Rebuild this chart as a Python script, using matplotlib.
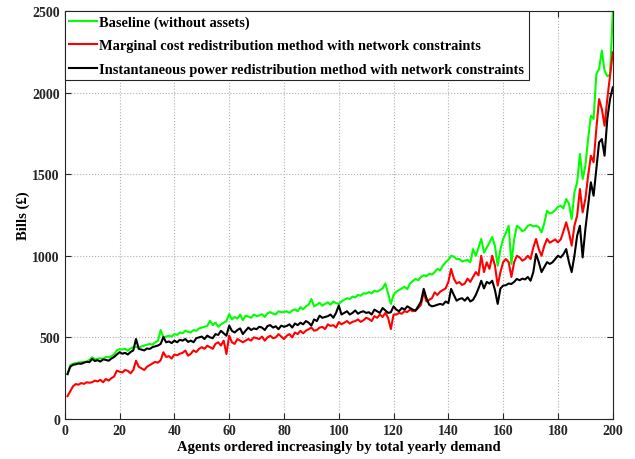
import numpy as np
import matplotlib
matplotlib.use("Agg")
import matplotlib.pyplot as plt

# Bills per agent (agents sorted by total yearly demand)
baseline = [
    275, 330, 338, 342, 345, 348, 350, 352, 362, 378, 365, 370, 372, 368, 380, 378, 385, 395, 420, 428,
    425, 430, 418, 432, 440, 441, 438, 445, 450, 455, 460, 455, 470, 478, 545, 500, 505, 510, 505, 520,
    515, 530, 525, 541, 533, 530, 545, 540, 555, 560, 565, 570, 602, 575, 590, 565, 580, 590, 600, 643,
    610, 625, 615, 640, 605, 633, 628, 620, 640, 630, 635, 642, 625, 648, 655, 645, 640, 660, 654, 655,
    660, 650, 665, 672, 660, 685, 672, 690, 700, 735, 690, 700, 712, 694, 705, 715, 700, 720, 710, 705,
    720, 730, 740, 735, 750, 745, 760, 755, 770, 768, 778, 770, 785, 780, 790, 800, 830, 770, 705, 760,
    780, 790, 800, 810, 795, 830, 845, 858, 850, 870, 880, 875, 890, 885, 900, 920, 910, 940, 960, 975,
    1000, 995, 980, 980, 965, 970, 975, 960, 1041, 1000, 1050, 1103, 1020, 1050, 1080, 1115, 1060, 939, 1040, 1103,
    1140, 1184, 950, 1100, 1184, 1170, 1150, 1160, 1184, 1190, 1180, 1184, 1175, 1143, 1200, 1276, 1260, 1265, 1280, 1300,
    1307, 1290, 1348, 1320, 1225, 1389, 1450, 1624, 1470, 1552, 1715, 1858, 1838, 2114, 2144, 2257, 2134, 2100, 2110, 2492,
]
marginal = [
    140, 170, 200, 214, 210, 220, 215, 225, 222, 225, 235, 230, 240, 225, 245, 235, 250, 260, 296, 290,
    285, 300, 295, 280, 300, 357, 320, 310, 300, 320, 330, 340, 350, 345, 360, 409, 380, 385, 370, 395,
    390, 400, 405, 419, 388, 400, 420, 410, 430, 440, 430, 449, 440, 430, 460, 470, 450, 480, 398, 511,
    470, 460, 490, 480, 470, 480, 490, 480, 500, 495, 490, 505, 480, 500, 510, 495, 500, 520, 505, 490,
    510, 520, 500, 530, 520, 540, 525, 541, 550, 560, 541, 545, 560, 564, 551, 580, 570, 575, 560, 594,
    580, 590, 600, 585, 595, 600, 610, 595, 605, 620, 613, 600, 630, 620, 640, 625, 650, 620, 551, 640,
    640, 650, 645, 660, 655, 670, 660, 664, 680, 700, 776, 720, 730, 740, 776, 760, 780, 790, 800, 840,
    919, 860, 830, 839, 821, 830, 860, 840, 870, 900, 880, 1000, 900, 960, 920, 1000, 940, 817, 900, 961,
    980, 961, 870, 960, 1000, 990, 970, 980, 1000, 980, 1050, 1103, 1040, 1000, 1060, 1103, 1080, 1090, 1100, 1082,
    1100, 1150, 1205, 1143, 1062, 1184, 1246, 1409, 1266, 1348, 1491, 1613, 1573, 1777, 1960, 1899, 1797, 1960, 2104, 2247,
]
instantaneous = [
    275, 320, 332, 335, 340, 338, 345, 350, 348, 368, 355, 360, 352, 365, 362, 357, 370, 380, 395, 409,
    400, 405, 395, 410, 420, 490, 430, 425, 420, 432, 429, 440, 445, 450, 460, 502, 470, 475, 465, 480,
    470, 485, 480, 490, 472, 480, 470, 495, 500, 505, 490, 511, 500, 495, 520, 515, 540, 525, 510, 572,
    540, 530, 545, 555, 520, 541, 560, 545, 555, 550, 565, 560, 545, 570, 575, 560, 568, 550, 572, 565,
    570, 580, 560, 585, 575, 590, 580, 600, 590, 572, 610, 600, 633, 620, 625, 630, 640, 620, 650, 695,
    640, 650, 660, 640, 650, 665, 645, 655, 660, 650, 654, 640, 670, 660, 650, 680, 665, 650, 654, 690,
    670, 660, 680, 670, 690, 680, 670, 664, 690, 720, 797, 740, 700, 690, 694, 700, 705, 700, 720, 710,
    797, 760, 725, 735, 740, 725, 745, 720, 730, 760, 800, 847, 800, 840, 830, 847, 790, 705, 800, 817,
    820, 830, 827, 840, 858, 850, 860, 855, 870, 847, 900, 1011, 960, 900, 930, 961, 950, 960, 980, 1000,
    990, 1010, 1041, 961, 900, 1000, 1123, 1184, 990, 1164, 1307, 1450, 1368, 1532, 1695, 1715, 1613, 1838, 1960, 2032,
]
assert len(baseline) == len(marginal) == len(instantaneous) == 200

labels = [
    'Baseline (without assets)',
    'Marginal cost redistribution method with network constraints',
    'Instantaneous power redistribution method with network constraints',
]
agents = np.arange(1, len(baseline) + 1)

plt.rcParams['font.family'] = ['Liberation Serif', 'DejaVu Serif']
plt.rcParams['font.weight'] = 'bold'

fig = plt.figure(figsize=(6.35, 4.6), dpi=100)
ax = fig.add_axes([0.102, 0.087, 0.863, 0.887])

ax.plot(agents, baseline, color='#00ff00', lw=1.5, label=labels[0])
ax.plot(agents, marginal, color='#ff0000', lw=1.5, label=labels[1])
ax.plot(agents, instantaneous, color='black', lw=1.5, label=labels[2])

ax.set_xlim(0, 200)
ax.set_ylim(0, 2500)
ax.set_xticks(np.arange(0, 201, 20))
ax.set_yticks(np.arange(0, 2501, 500))
ax.grid(True, color='#b0b0b0', linestyle=':', linewidth=0.8)
ax.tick_params(direction='in', top=True, right=True, length=4, labelsize=10, colors='#262626')
for s in ax.spines.values():
    s.set_color('#262626')
    s.set_linewidth(0.8)

ax.set_xlabel('Agents ordered increasingly by total yearly demand', fontsize=10.5, fontweight='bold', labelpad=2)
ax.set_ylabel('Bills (£)', fontsize=10.5, fontweight='bold', labelpad=2)

leg = ax.legend(loc='upper left', fontsize=10.4, fancybox=False, framealpha=1,
                edgecolor='#262626', borderaxespad=0, handlelength=1.95,
                handletextpad=0.15, borderpad=0.3, labelspacing=0.72)
leg.get_frame().set_linewidth(0.8)

fig.savefig('out.png', dpi=100)
